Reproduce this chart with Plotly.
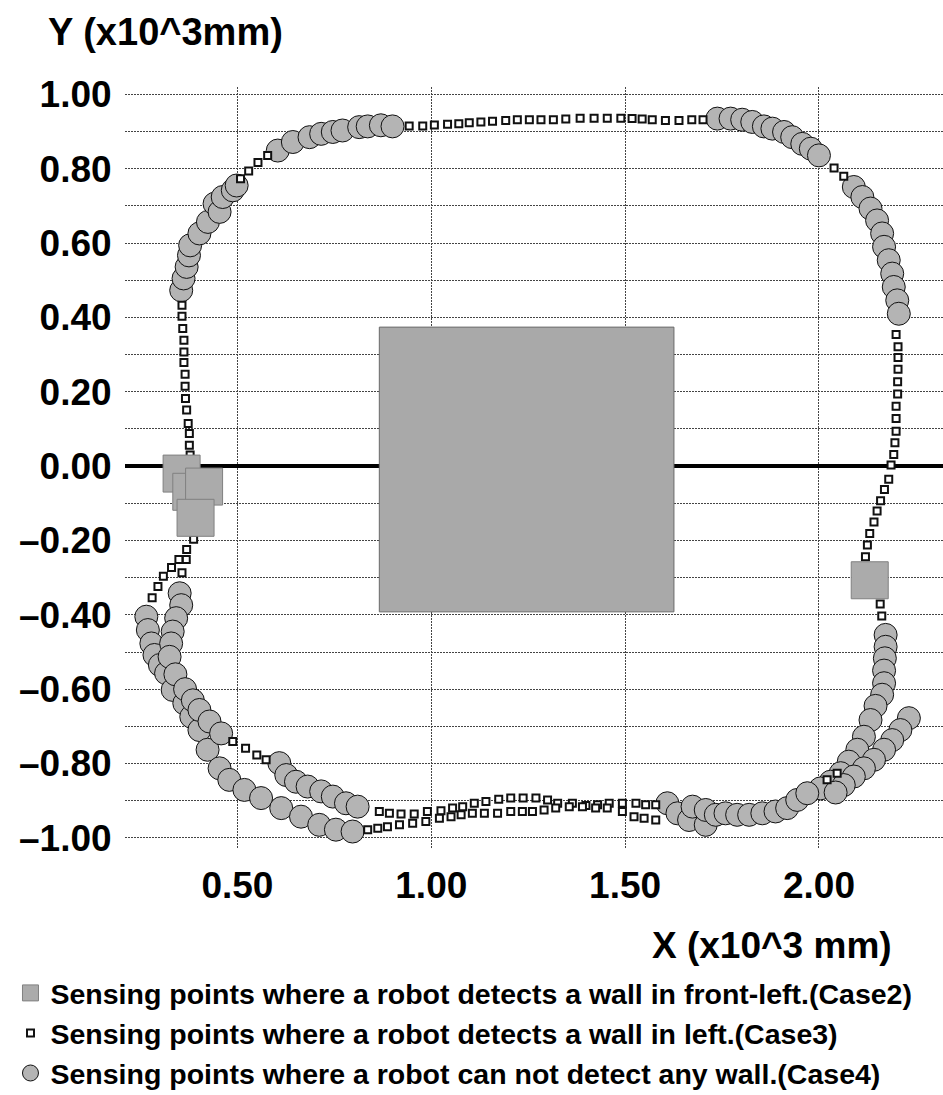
import plotly.graph_objects as go

# ---------------- data ----------------
# Case2: sensing points where a robot detects a wall in front-left
case2_x = [0.356, 0.381, 0.414, 0.392, 2.131]
case2_y = [-0.020, -0.069, -0.055, -0.139, -0.307]

# Case3: sensing points where a robot detects a wall in left
case3_x = [
    # top-left connector
    0.508, 0.529, 0.553, 0.578,
    # top row
    0.943, 0.978, 1.008, 1.042, 1.071, 1.098, 1.128, 1.158, 1.192, 1.222, 1.253, 1.283,
    1.315, 1.347, 1.384, 1.420, 1.454, 1.489, 1.518, 1.544, 1.570, 1.604, 1.639, 1.672, 1.701,
    # top-right connector
    2.039, 2.064,
    # right side
    2.199, 2.204, 2.204, 2.204, 2.203, 2.203, 2.199, 2.199, 2.199, 2.196, 2.193, 2.186,
    2.180, 2.169, 2.159, 2.150, 2.142, 2.131, 2.125, 2.120, 2.158, 2.162,
    # left side
    0.357, 0.357, 0.359, 0.362, 0.362, 0.362, 0.365, 0.365, 0.366, 0.369, 0.373, 0.376, 0.376, 0.378,
    # left lower
    0.387, 0.369, 0.368, 0.357, 0.349, 0.330, 0.309, 0.295, 0.280,
    # bottom-left connector
    0.488, 0.521, 0.550, 0.574,
    # bottom upper row
    0.866, 0.892, 0.922, 0.956, 0.990, 1.025, 1.055, 1.081, 1.111, 1.141, 1.174, 1.205,
    1.237, 1.270, 1.300, 1.326, 1.364, 1.399, 1.429, 1.459, 1.493, 1.528, 1.553, 1.579,
    # bottom lower row
    0.836, 0.862, 0.887, 0.918, 0.952, 0.986, 1.021, 1.051, 1.077, 1.106, 1.137, 1.171, 1.205,
    1.235, 1.261, 1.291, 1.321, 1.356, 1.390, 1.424, 1.454, 1.493, 1.523, 1.549, 1.579,
    # bottom-right connector
    2.021, 2.047,
]
case3_y = [
    0.773, 0.794, 0.817, 0.836,
    0.915, 0.915, 0.918, 0.920, 0.921, 0.924, 0.926, 0.928, 0.930, 0.932, 0.932, 0.932,
    0.932, 0.934, 0.936, 0.936, 0.936, 0.936, 0.935, 0.934, 0.932, 0.930, 0.930, 0.932, 0.932,
    0.802, 0.780,
    0.354, 0.321, 0.292, 0.261, 0.227, 0.194, 0.161, 0.128, 0.094, 0.063, 0.031, 0.003,
    -0.035, -0.063, -0.093, -0.121, -0.150, -0.181, -0.212, -0.244, -0.371, -0.403,
    0.433, 0.403, 0.370, 0.339, 0.307, 0.279, 0.247, 0.215, 0.182, 0.151, 0.115, 0.088, 0.056, 0.030,
    -0.197, -0.224, -0.251, -0.287, -0.251, -0.273, -0.296, -0.324, -0.354,
    -0.741, -0.759, -0.777, -0.790,
    -0.929, -0.934, -0.936, -0.936, -0.929, -0.927, -0.920, -0.916, -0.907, -0.902, -0.896, -0.893,
    -0.893, -0.893, -0.898, -0.907, -0.907, -0.913, -0.911, -0.907, -0.907, -0.907, -0.911, -0.911,
    -0.978, -0.974, -0.970, -0.965, -0.961, -0.956, -0.947, -0.943, -0.938, -0.934, -0.934, -0.934, -0.929,
    -0.929, -0.929, -0.925, -0.920, -0.916, -0.916, -0.920, -0.920, -0.929, -0.943, -0.947, -0.952,
    -0.844, -0.826,
]

# Case4: sensing points where a robot can not detect any wall
case4_x = [
    # top-left arc
    0.355, 0.361, 0.369, 0.375, 0.378, 0.402, 0.424, 0.441, 0.454, 0.462, 0.488, 0.498,
    # top arc
    0.604, 0.643, 0.686, 0.716, 0.746, 0.771, 0.814, 0.836, 0.870, 0.900,
    # top-right arc
    1.738, 1.772, 1.802, 1.828, 1.858, 1.880, 1.910, 1.931, 1.957, 1.979, 2.000,
    # right upper
    2.090, 2.112, 2.133, 2.150, 2.163, 2.168, 2.180, 2.189, 2.193, 2.202, 2.206,
    # right lower column
    2.172, 2.172, 2.170, 2.168, 2.168, 2.163,
    # right-bottom strand A
    2.146, 2.133, 2.116, 2.099, 2.077, 2.056, 2.030, 2.004,
    # right-bottom strand B
    2.232, 2.210, 2.189, 2.168, 2.142, 2.116, 2.090, 2.064, 2.043,
    # bottom right
    1.609, 1.635, 1.665, 1.674, 1.708, 1.708, 1.734, 1.759, 1.789, 1.820, 1.854, 1.888, 1.918, 1.944, 1.970,
    # bottom-left outer
    0.265, 0.269, 0.278, 0.286, 0.300, 0.316, 0.333, 0.363, 0.381, 0.402, 0.423, 0.454, 0.479,
    0.518, 0.561, 0.613, 0.664, 0.711, 0.754, 0.797,
    # bottom-left inner
    0.351, 0.355, 0.342, 0.333, 0.329, 0.325, 0.340, 0.365, 0.385, 0.402, 0.428, 0.458,
    0.608, 0.626, 0.651, 0.681, 0.716, 0.746, 0.780, 0.810,
]
case4_y = [
    0.473, 0.505, 0.536, 0.567, 0.594, 0.626, 0.657, 0.706, 0.684, 0.724, 0.742, 0.755,
    0.849, 0.872, 0.885, 0.894, 0.899, 0.903, 0.912, 0.914, 0.917, 0.914,
    0.935, 0.935, 0.932, 0.926, 0.914, 0.908, 0.899, 0.885, 0.867, 0.854, 0.836,
    0.751, 0.724, 0.693, 0.661, 0.626, 0.590, 0.554, 0.518, 0.482, 0.446, 0.410,
    -0.454, -0.486, -0.517, -0.550, -0.584, -0.615,
    -0.645, -0.683, -0.728, -0.763, -0.795, -0.826, -0.849, -0.867,
    -0.678, -0.710, -0.737, -0.763, -0.790, -0.813, -0.835, -0.858, -0.878,
    -0.907, -0.934, -0.952, -0.916, -0.965, -0.925, -0.938, -0.934, -0.938, -0.938, -0.934, -0.929, -0.920, -0.898, -0.880,
    -0.405, -0.441, -0.477, -0.508, -0.535, -0.557, -0.602, -0.638, -0.674, -0.710, -0.763, -0.813, -0.844,
    -0.871, -0.893, -0.920, -0.943, -0.965, -0.978, -0.983,
    -0.342, -0.374, -0.409, -0.445, -0.477, -0.513, -0.560, -0.600, -0.630, -0.656, -0.687, -0.719,
    -0.799, -0.831, -0.849, -0.862, -0.875, -0.889, -0.907, -0.916,
]

# obstacle (corner coordinates)
obstacle_x = [0.866, 1.626, 1.626, 0.866, 0.866]
obstacle_y = [-0.392, -0.392, 0.374, 0.374, -0.392]

# tick labels
y_tickvals = [1.0, 0.8, 0.6, 0.4, 0.2, 0.0, -0.2, -0.4, -0.6, -0.8, -1.0]
y_ticktext = ["1.00", "0.80", "0.60", "0.40", "0.20", "0.00",
              "\u20130.20", "\u20130.40", "\u20130.60", "\u20130.80", "\u20131.00"]
x_tickvals = [0.5, 1.0, 1.5, 2.0]
x_ticktext = ["0.50", "1.00", "1.50", "2.00"]

legend_names = [
    "Sensing points where a robot detects a wall in front-left.(Case2)",
    "Sensing points where a robot detects a wall in left.(Case3)",
    "Sensing points where a robot can not detect any wall.(Case4)",
]

FONT = "Liberation Sans, Arial, sans-serif"

fig = go.Figure()

fig.add_trace(go.Scatter(
    x=obstacle_x, y=obstacle_y, mode="lines", fill="toself",
    fillcolor="#a9a9a9", line=dict(color="#6a6a6a", width=1),
    showlegend=False, hoverinfo="skip"))

fig.add_trace(go.Scatter(
    x=case4_x, y=case4_y, mode="markers", name=legend_names[2], legendrank=3,
    marker=dict(symbol="circle", size=23, color="#b4b4b4",
                line=dict(color="#111111", width=1))))

fig.add_trace(go.Scatter(
    x=case3_x, y=case3_y, mode="markers", name=legend_names[1], legendrank=2,
    marker=dict(symbol="square", size=7, color="white",
                line=dict(color="#111111", width=2))))

fig.add_trace(go.Scatter(
    x=case2_x, y=case2_y, mode="markers", name=legend_names[0], legendrank=1,
    marker=dict(symbol="square", size=37, color="#ababab",
                line=dict(color="#808080", width=1))))

grid_dash = "2px,1px"
fig.update_xaxes(
    range=[0.21, 2.32], tickvals=x_tickvals, ticktext=x_ticktext,
    showgrid=True, gridcolor="#444444", gridwidth=1, griddash=grid_dash,
    zeroline=False, showline=False, automargin=False,
    ticks="outside", ticklen=4, tickcolor="rgba(0,0,0,0)",
    tickfont=dict(family=FONT, size=37, color="black", weight="bold"),
)
fig.update_yaxes(
    range=[-1.03, 1.02], tickvals=y_tickvals, ticktext=y_ticktext,
    showgrid=True, gridcolor="#444444", gridwidth=1, griddash=grid_dash,
    minor=dict(tickmode="linear", tick0=0, dtick=0.1, showgrid=True,
               gridcolor="#444444", gridwidth=1, griddash=grid_dash, ticks=""),
    zeroline=True, zerolinecolor="black", zerolinewidth=4,
    showline=False, automargin=False,
    ticks="outside", ticklen=5, tickcolor="rgba(0,0,0,0)",
    tickfont=dict(family=FONT, size=37, color="black", weight="bold"),
)

fig.add_annotation(text="Y (x10^3mm)", xref="paper", yref="paper",
                   x=-0.097, y=1.072, xanchor="left", yanchor="middle", showarrow=False,
                   font=dict(family=FONT, size=38, color="black", weight="bold"))
fig.add_annotation(text="X (x10^3 mm)", xref="paper", yref="paper",
                   x=0.791, y=-0.126, xanchor="center", yanchor="middle", showarrow=False,
                   font=dict(family=FONT, size=37, color="black", weight="bold"))

fig.update_layout(
    width=943, height=1095,
    margin=dict(l=125, r=0, t=87, b=246, autoexpand=False),
    plot_bgcolor="white", paper_bgcolor="white",
    showlegend=True,
    legend=dict(x=-0.14, y=-0.156, xanchor="left", yanchor="top",
                font=dict(family=FONT, size=28.5, color="black", weight="bold"),
                itemsizing="trace", bgcolor="rgba(0,0,0,0)",
                tracegroupgap=0),
)

fig.write_html("out.html",
               config={"displayModeBar": False},
               post_script="document.body.style.margin='0';document.body.style.padding='0';")
